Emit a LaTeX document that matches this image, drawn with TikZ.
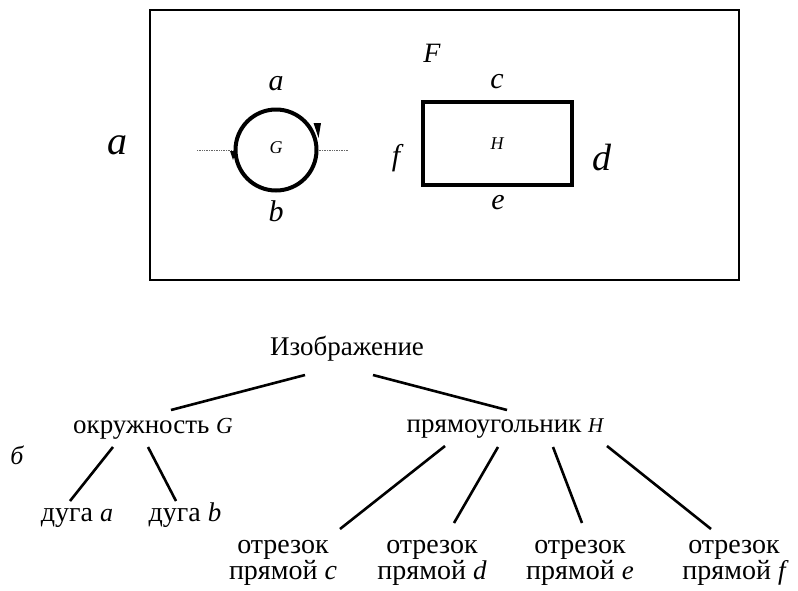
\documentclass[tikz,border=0pt]{standalone}
\usepackage{fontspec}
\setmainfont{Liberation Serif}
\begin{document}
\begin{tikzpicture}[x=1pt,y=-1pt,
  tt/.style={font=\fontsize{27}{28}\selectfont, inner sep=0pt, anchor=base},
  leaf/.style={font=\fontsize{28}{28}\selectfont, inner sep=0pt, anchor=base},
  two/.style={font=\fontsize{28}{26}\selectfont, inner sep=0pt, align=center, anchor=north},
  lt/.style={font=\fontsize{#1}{#1}\selectfont\itshape, inner sep=0pt},
  lt/.default=30,
  thickshape/.style={draw, line width=4pt},
  link/.style={line width=2.6pt}]
\useasboundingbox (0,0) rectangle (798,590);
\newcommand{\iv}[2][24]{{\fontsize{#1}{#1}\selectfont\itshape #2}}
% upper part (a)
\node[draw, line width=1.5pt, minimum width=589pt, minimum height=270pt, inner sep=0pt] (frame) at (444.5,145) {};
\node[lt=40] (la) at (117,145) {a};
\node[thickshape, circle, minimum size=81pt, inner sep=0pt] (G) at (276,150) {};
\node[lt=18] (Gl) at (276,148) {G};
\node[lt] (ta) at (276,84) {a};
\node[lt] (tb) at (276,211) {b};
\coordinate (dl) at (197,150);
\coordinate (dr) at (348,150);
\draw[densely dotted, line width=0.7pt, gray!80!black] (dl) -- (G.west);
\draw[densely dotted, line width=0.7pt, gray!80!black] (G.east) -- (dr);
\fill (313.5,123) -- (321,123) -- (318.5,138) -- cycle;
\fill (230,151) -- (236,151) -- (233,160) -- cycle;
\node[thickshape, rectangle, minimum width=149pt, minimum height=83pt, inner sep=0pt] (H) at (497.5,143.5) {};
\node[lt=18] (Hl) at (497,144) {H};
\node[lt=28] (F) at (432,53) {F};
\node[lt] (c) at (497,82) {c};
\node[lt=30] (f) at (396,158) {f};
\node[lt=38] (d) at (602,158) {d};
\node[lt] (e) at (498,203) {e};
% lower part (b)
\node[lt=26] (lb) at (17,455) {б};
\node[tt] (img) at (347,355) {Изображение};
\node[tt] (okr) at (153,433) {окружность \iv[23]{G}};
\node[tt] (pr) at (505,432) {прямоугольник \iv[21]{H}};
\node[leaf] (da) at (77,521) {дуга \iv[26]{a}};
\node[leaf] (db) at (185,521) {дуга \iv[27]{b}};
\node[two] (s1) at (283,540) {отрезок\\прямой \iv[28]{c}};
\node[two] (s2) at (432,540) {отрезок\\прямой \iv[27]{d}};
\node[two] (s3) at (580,540) {отрезок\\прямой \iv[27]{e}};
\node[two] (s4) at (734,540) {отрезок\\прямой \iv[27]{f}};
\coordinate (i1) at (305,375); \coordinate (o1) at (171,410);
\coordinate (i2) at (373,375); \coordinate (p1) at (507,410);
\draw[link] (i1) -- (o1);
\draw[link] (i2) -- (p1);
\coordinate (o2) at (113,447); \coordinate (a1) at (70,501);
\coordinate (o3) at (148,447); \coordinate (b1) at (176,501);
\draw[link] (o2) -- (a1);
\draw[link] (o3) -- (b1);
\coordinate (q1) at (445,446); \coordinate (e1) at (340,529);
\coordinate (q2) at (498,447); \coordinate (e2) at (454,523);
\coordinate (q3) at (553,447); \coordinate (e3) at (582,523);
\coordinate (q4) at (607,446); \coordinate (e4) at (711,529);
\draw[link] (q1) -- (e1);
\draw[link] (q2) -- (e2);
\draw[link] (q3) -- (e3);
\draw[link] (q4) -- (e4);
\end{tikzpicture}
\end{document}
